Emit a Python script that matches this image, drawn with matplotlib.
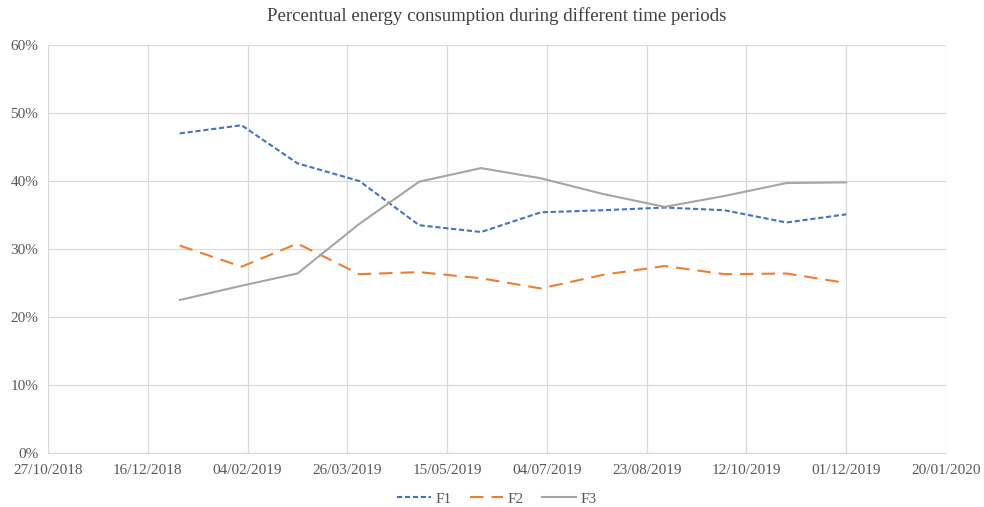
import numpy as np
import pandas as pd
import matplotlib
matplotlib.use("Agg")
import matplotlib.pyplot as plt
import matplotlib.dates as mdates
from matplotlib.ticker import PercentFormatter

# monthly readings, share of total consumption (%)
dates = pd.to_datetime([
    "2019-01-01", "2019-02-01", "2019-03-01", "2019-04-01", "2019-05-01", "2019-06-01",
    "2019-07-01", "2019-08-01", "2019-09-01", "2019-10-01", "2019-11-01", "2019-12-01",
])
f1 = [47.0, 48.2, 42.6, 40.0, 33.5, 32.5, 35.4, 35.7, 36.1, 35.7, 33.9, 35.1]
f2 = [30.5, 27.4, 30.8, 26.3, 26.6, 25.7, 24.2, 26.2, 27.5, 26.3, 26.4, 25.0]
f3 = [22.5, 24.6, 26.4, 33.7, 39.9, 41.9, 40.4, 38.1, 36.2, 37.8, 39.7, 39.8]

x_start = pd.Timestamp("2018-10-27")
x_end = pd.Timestamp("2020-01-20")
x_ticks = pd.date_range(x_start, x_end, freq="50D")
y_ticks = [0, 10, 20, 30, 40, 50, 60]

plt.rcParams["font.family"] = ["Liberation Serif", "DejaVu Serif"]

fig = plt.figure(figsize=(9.84, 5.07), dpi=100)
ax = fig.add_axes([0.0488, 0.1065, 0.9126, 0.8047])

ax.plot(dates, f1, color="#4472C4", lw=1.5, dashes=(2.5, 1.3), label="F1")
ax.plot(dates, f2, color="#ED7D31", lw=1.5, dashes=(6.5, 3.8), label="F2")
ax.plot(dates, f3, color="#A5A5A5", lw=1.5, label="F3")

ax.set_xlim(x_start, x_end)
ax.set_ylim(0, 60)
ax.set_xticks(x_ticks)
ax.xaxis.set_major_formatter(mdates.DateFormatter("%d/%m/%Y"))
ax.set_yticks(y_ticks)
ax.yaxis.set_major_formatter(PercentFormatter(decimals=0))

ax.grid(True, color="#D9D9D9", lw=0.9)
ax.set_axisbelow(True)
for side in ["top", "right", "left"]:
    ax.spines[side].set_visible(False)
ax.spines["bottom"].set_color("#D9D9D9")
ax.tick_params(length=0, labelsize=11, colors="#595959")
ax.tick_params(axis="x", pad=8)
ax.tick_params(axis="y", pad=7)

fig.suptitle("Percentual energy consumption during different time periods",
             x=0.505, y=0.985, fontsize=13.6, color="#404040")
fig.legend(loc="center", bbox_to_anchor=(0.505, 0.016), ncol=3, frameon=False,
           fontsize=11, labelcolor="#595959", handlelength=2.2, columnspacing=1.2,
           handletextpad=0.3)

fig.savefig("out.png", dpi=100)
